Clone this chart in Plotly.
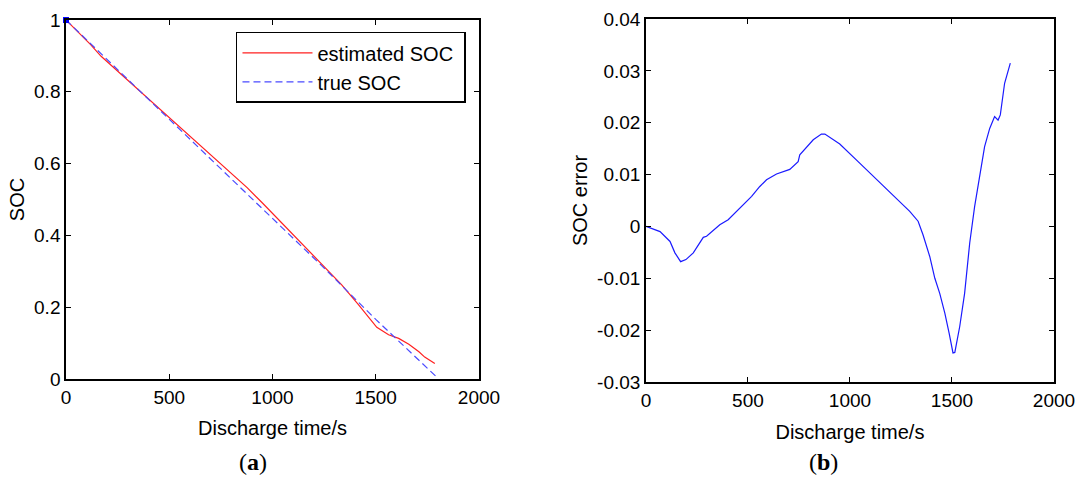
import plotly.graph_objects as go

# ---- data ----
t_true = [0, 250, 500, 750, 1000, 1250, 1500, 1790]
soc_true = [1.0, 0.862, 0.724, 0.586, 0.447, 0.309, 0.166, 0.008]

t_est = [0, 118, 170, 232, 297, 362, 403, 485, 558, 640, 705, 754, 820, 877,
         950, 1040, 1228, 1334, 1416, 1465, 1505, 1562, 1611, 1660, 1709, 1737, 1786]
soc_est = [1.0, 0.932, 0.899, 0.867, 0.834, 0.800, 0.778, 0.737, 0.699, 0.656,
           0.621, 0.597, 0.564, 0.533, 0.491, 0.438, 0.327, 0.263, 0.207, 0.173,
           0.144, 0.123, 0.113, 0.097, 0.076, 0.061, 0.043]

t_err = [0, 69, 118, 142, 170, 196, 232, 281, 297, 362, 403, 485, 518, 558, 591,
         640, 705, 746, 754, 820, 860, 877, 950, 1040, 1228, 1293, 1334, 1358,
         1391, 1416, 1440, 1465, 1486, 1505, 1514, 1538, 1562, 1587, 1611, 1636,
         1660, 1685, 1709, 1726, 1737, 1758, 1775, 1786]
soc_err = [0.0, -0.001, -0.0029, -0.0051, -0.0068, -0.0064, -0.0051, -0.0021,
           -0.0019, 0.0003, 0.0013, 0.0046, 0.0058, 0.0077, 0.0090, 0.0101, 0.0110,
           0.0125, 0.0138, 0.0167, 0.0178, 0.0178, 0.0159, 0.0125, 0.0055, 0.0029,
           0.0010, -0.0016, -0.0058, -0.0100, -0.0129, -0.0167, -0.0206, -0.0244,
           -0.0243, -0.0193, -0.0129, -0.0032, 0.0038, 0.0096, 0.0154, 0.0189,
           0.0212, 0.0205, 0.0215, 0.0276, 0.0302, 0.0315]

x_ticks = [0, 500, 1000, 1500, 2000]
y1_ticks = [0, 0.2, 0.4, 0.6, 0.8, 1]
y1_labels = ["0", "0.2", "0.4", "0.6", "0.8", "1"]
y2_ticks = [-0.03, -0.02, -0.01, 0, 0.01, 0.02, 0.03, 0.04]
y2_labels = ["-0.03", "-0.02", "-0.01", "0", "0.01", "0.02", "0.03", "0.04"]

FONT = "Liberation Sans, Arial, sans-serif"
SERIF = "Liberation Serif, Times New Roman, serif"

fig = go.Figure()
fig.add_trace(go.Scatter(x=t_est, y=soc_est, mode="lines", name="estimated SOC\u00a0",
                         line=dict(color="#ff2020", width=1.2),
                         xaxis="x", yaxis="y", legendgroup="a"))
fig.add_trace(go.Scatter(x=t_true, y=soc_true, mode="lines", name="true SOC",
                         line=dict(color="#4a4aff", width=1.2, dash="7px,4px"),
                         xaxis="x", yaxis="y", legendgroup="b"))
# start-point marker of the true SOC curve
fig.add_trace(go.Scatter(x=t_true[:1], y=soc_true[:1], mode="markers", showlegend=False,
                         marker=dict(symbol="square", color="#0000ff", size=6),
                         cliponaxis=False, xaxis="x", yaxis="y"))
fig.add_trace(go.Scatter(x=t_err, y=soc_err, mode="lines", showlegend=False,
                         line=dict(color="#1a1aff", width=1.2),
                         xaxis="x2", yaxis="y2"))

axis_common = dict(showgrid=False, zeroline=False, showline=True, linecolor="black",
                   linewidth=1.5, mirror="ticks", ticks="inside", ticklen=5,
                   tickcolor="black", tickwidth=1, automargin=False,
                   tickfont=dict(family=FONT, size=19, color="black"))
title_font = dict(family=FONT, size=20, color="black")

fig.update_layout(
    width=1084, height=477,
    paper_bgcolor="white", plot_bgcolor="white",
    margin=dict(l=0, r=0, t=0, b=0),
    xaxis=dict(domain=[0.0609, 0.4419], range=[0, 2000], tickvals=x_ticks,
               title=dict(text="Discharge time/s", font=title_font, standoff=14),
               anchor="y", **axis_common),
    yaxis=dict(domain=[0.2055, 0.958], range=[0, 1], tickvals=y1_ticks, ticktext=y1_labels,
               title=dict(text="SOC", font=title_font, standoff=4),
               anchor="x", **axis_common),
    xaxis2=dict(domain=[0.5959, 0.9723], range=[0, 2000], tickvals=x_ticks,
                title=dict(text="Discharge time/s", font=title_font, standoff=15),
                anchor="y2", **axis_common),
    yaxis2=dict(domain=[0.1992, 0.9602], range=[-0.03, 0.04], tickvals=y2_ticks,
                ticktext=y2_labels,
                title=dict(text="SOC error", font=title_font, standoff=4),
                anchor="x2", **axis_common),
    legend=dict(x=0.2177, y=0.933, xanchor="left", yanchor="top",
                bordercolor="black", borderwidth=1.5, bgcolor="white",
                font=dict(family=FONT, size=20, color="black"),
                tracegroupgap=0, itemwidth=70),
    showlegend=True,
    annotations=[
        dict(text="(<b>a</b>)", x=253 / 1084, y=1 - 462 / 477, xref="paper", yref="paper",
             xanchor="center", yanchor="middle", showarrow=False,
             font=dict(family=SERIF, size=24, color="black")),
        dict(text="(<b>b</b>)", x=823 / 1084, y=1 - 462 / 477, xref="paper", yref="paper",
             xanchor="center", yanchor="middle", showarrow=False,
             font=dict(family=SERIF, size=24, color="black")),
    ],
)

fig.write_html("out.html", config={"displayModeBar": False},
               post_script="document.body.style.margin='0';document.body.style.overflow='hidden';")
